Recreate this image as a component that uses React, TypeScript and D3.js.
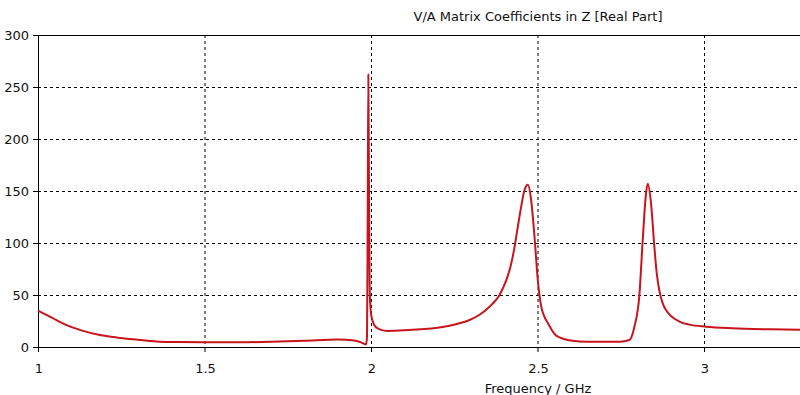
import React from 'react';
import * as d3 from 'd3';

// frequency in GHz, real part of Z
const freq = [
  1.0, 1.04, 1.086, 1.13, 1.186, 1.24, 1.286, 1.33, 1.366, 1.42, 1.5, 1.6, 1.7, 1.8, 1.9, 1.95, 1.97, 1.98, 1.985,
  1.988, 1.99, 1.992, 1.994, 1.996, 1.998, 2.0, 2.005, 2.01, 2.02, 2.03, 2.05, 2.1, 2.15, 2.2, 2.266, 2.296,
  2.326, 2.356, 2.372, 2.386, 2.396, 2.406, 2.421, 2.431, 2.441, 2.451, 2.461, 2.471, 2.481, 2.491, 2.501, 2.511, 2.521, 2.531,
  2.556, 2.605, 2.65, 2.7, 2.746, 2.776, 2.791, 2.806, 2.816, 2.826, 2.831, 2.841, 2.851, 2.858, 2.866, 2.876, 2.886,
  2.9, 2.926, 2.956, 3.006, 3.085, 3.2, 3.29,
];
const realZ = [
  35, 28.5, 21, 16, 11.5, 9, 7.4, 6, 5, 4.7, 4.5, 4.5, 5, 6, 7.3, 6.2, 4.5, 3, 2.5,
  10, 117, 262, 150, 57, 40, 32, 25, 21, 18, 16.5, 15.5, 16, 17, 18.5, 22.8, 26,
  31, 38.8, 44, 50, 56.5, 64, 80, 96, 116, 135, 151, 156, 141, 106, 64, 39, 29, 23,
  11, 6, 5, 5, 5, 6.7, 19.5, 50, 103, 148, 157, 138, 96, 71, 54, 42, 35.5,
  30, 24.5, 21.5, 19.5, 18, 17, 16.5,
];
const xTicks = [1, 1.5, 2, 2.5, 3];
const yTicks = [0, 50, 100, 150, 200, 250, 300];

const W = 800;
const H = 395;
const left = 38;
const top = 35;
const bottom = 347;
const font = 'Tahoma, "DejaVu Sans", sans-serif';

export default function App() {
  const x = d3.scaleLinear().domain([1, 3]).range([left, left + 666]);
  const y = d3.scaleLinear().domain([0, 300]).range([bottom, top]);
  const pts = freq.map((f, i) => [f, realZ[i]] as [number, number]);
  const line = d3.line<[number, number]>()
    .x(d => x(d[0]))
    .y(d => y(d[1]))
    .curve(d3.curveMonotoneX);

  return (
    <svg width={W} height={H} style={{ position: 'fixed', left: 0, top: 0, background: '#fff' }}
      fontFamily={font}>
      <rect width={W} height={H} fill="#fff" />
      {/* grid */}
      {xTicks.filter(t => t > 1).map(t => (
        <line key={'gx' + t} x1={x(t) + 0.5} x2={x(t) + 0.5} y1={top} y2={bottom}
          stroke="#000" strokeDasharray="3,3" />
      ))}
      {yTicks.filter(t => t > 0 && t < 300).map(t => (
        <line key={'gy' + t} x1={left} x2={W} y1={y(t) + 0.5} y2={y(t) + 0.5}
          stroke="#000" strokeDasharray="3,3" />
      ))}
      {/* axes */}
      <line x1={left} x2={W} y1={top + 0.5} y2={top + 0.5} stroke="#000" />
      <line x1={left} x2={W} y1={bottom + 0.5} y2={bottom + 0.5} stroke="#000" />
      <line x1={left + 0.5} x2={left + 0.5} y1={top} y2={bottom + 5} stroke="#000" />
      {yTicks.map(t => (
        <g key={'ty' + t}>
          <line x1={left - 5} x2={left} y1={y(t) + 0.5} y2={y(t) + 0.5} stroke="#000" />
          <text x={left - 9} y={y(t)} dy="0.37em" textAnchor="end" fontSize={13} fill="#111">{t}</text>
        </g>
      ))}
      {xTicks.map(t => (
        <g key={'tx' + t}>
          <line x1={x(t) + 0.5} x2={x(t) + 0.5} y1={bottom} y2={bottom + 5} stroke="#000" />
          <text x={x(t) + 1} y={373} textAnchor="middle" fontSize={13} fill="#111">{t}</text>
        </g>
      ))}
      {/* curve */}
      <path d={line(pts) ?? ''} fill="none" stroke="#c8141c" strokeWidth={2} strokeLinejoin="round" />
      <text x={538} y={21} textAnchor="middle" fontSize={13} fill="#111">
        V/A Matrix Coefficients in Z [Real Part]
      </text>
      <text x={538} y={393} textAnchor="middle" fontSize={13} fill="#111">Frequency / GHz</text>
    </svg>
  );
}
